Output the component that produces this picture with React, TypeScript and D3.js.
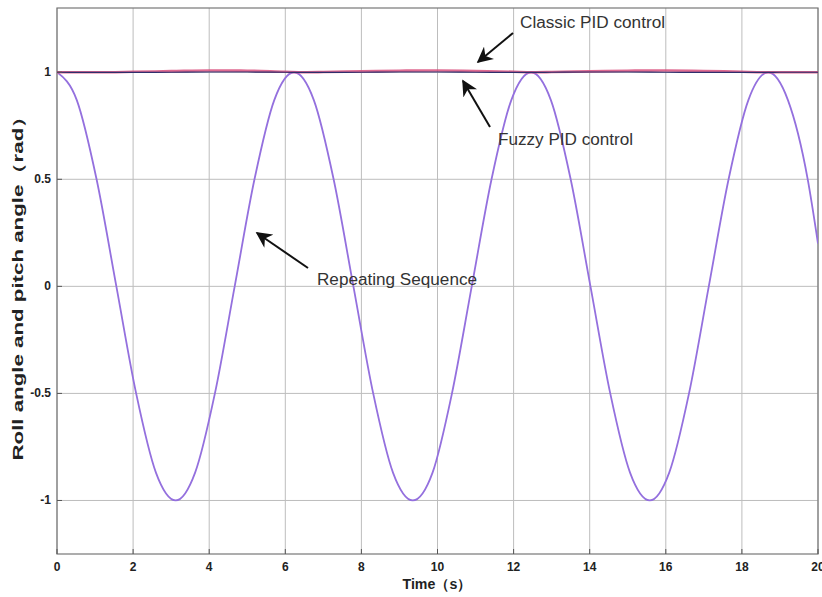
import React from "react";
import * as d3 from "d3";

const xTicks = [0, 2, 4, 6, 8, 10, 12, 14, 16, 18, 20];
const yTicks = [-1, -0.5, 0, 0.5, 1];

const refTimes = [0, 0.52, 1.04, 1.56, 2.08, 2.6, 3.12, 3.63, 4.15, 4.67, 5.19, 5.71, 6.23, 6.75, 7.27, 7.79, 8.31, 8.83, 9.35, 9.87, 10.38, 10.9, 11.42, 11.94, 12.46, 12.98, 13.5, 14.02, 14.54, 15.06, 15.58, 16.09, 16.61, 17.13, 17.65, 18.17, 18.69, 19.21, 19.73, 20];
const refValues = [1, 0.87, 0.5, 0, -0.5, -0.87, -1, -0.87, -0.5, 0, 0.5, 0.87, 1, 0.87, 0.5, 0, -0.5, -0.87, -1, -0.87, -0.5, 0, 0.5, 0.87, 1, 0.87, 0.5, 0, -0.5, -0.87, -1, -0.87, -0.5, 0, 0.5, 0.87, 1, 0.87, 0.5, 0.2];

const pidTimes = [0, 1, 2, 3, 4, 5, 6, 6.5, 7, 8, 9, 10, 11, 12, 12.5, 13, 14, 15, 16, 17, 18, 18.7, 19, 20];
const classicValues = [1.0, 1.0, 1.002, 1.005, 1.008, 1.007, 1.002, 1.0, 1.001, 1.004, 1.007, 1.008, 1.006, 1.002, 1.0, 1.001, 1.004, 1.007, 1.008, 1.006, 1.002, 1.0, 1.0, 1.0];
const fuzzyValues = [1.0, 0.999, 0.999, 1.0, 1.001, 1.001, 1.0, 0.999, 0.999, 1.0, 1.001, 1.001, 1.0, 0.999, 0.999, 1.0, 1.001, 1.001, 1.0, 0.999, 0.999, 0.999, 1.0, 1.0];

const annotations = [
  { text: "Classic PID control", tx: 520, ty: 28, len: 145, x1: 513, y1: 33, x2: 478, y2: 62 },
  { text: "Fuzzy PID control", tx: 498, ty: 145, len: 135, x1: 490, y1: 127, x2: 463, y2: 81 },
  { text: "Repeating Sequence", tx: 317, ty: 285, len: 160, x1: 308, y1: 268, x2: 257, y2: 233 },
];

export default function App() {
  const W = 822, H = 597;
  const L = 57, R = 818, T = 8, B = 554;
  const x = d3.scaleLinear().domain([0, 20]).range([L, R]);
  const y = d3.scaleLinear().domain([-1.25, 1.3]).range([B, T]);

  const line = d3.line<[number, number]>().x(d => x(d[0])).y(d => y(d[1])).curve(d3.curveMonotoneX);
  const refPath = line(refTimes.map((t, i) => [t, refValues[i]]))!;
  const classicPath = line(pidTimes.map((t, i) => [t, classicValues[i]]))!;
  const fuzzyPath = line(pidTimes.map((t, i) => [t, fuzzyValues[i]]))!;

  const font = "'Liberation Sans', Arial, sans-serif";

  return (
    <svg width={W} height={H} style={{ position: "absolute", left: 0, top: 0, background: "#fff" }}>
      <rect x={0} y={0} width={W} height={H} fill="#fff" />
      <defs>
        <clipPath id="plotclip">
          <rect x={L} y={T} width={R - L} height={B - T} />
        </clipPath>
        <marker id="arrow" viewBox="0 0 10 10" refX="9" refY="5" markerWidth="8" markerHeight="8" orient="auto">
          <path d="M0,0 L10,5 L0,10 L3,5 z" fill="#111" />
        </marker>
      </defs>
      {xTicks.map(t => (
        <line key={"gx" + t} x1={x(t)} x2={x(t)} y1={T} y2={B} stroke="#bdbdbd" strokeWidth={1} />
      ))}
      {yTicks.map(t => (
        <line key={"gy" + t} x1={L} x2={R} y1={y(t)} y2={y(t)} stroke="#bdbdbd" strokeWidth={1} />
      ))}
      <rect x={L} y={T} width={R - L} height={B - T} fill="none" stroke="#777" strokeWidth={1.2} />
      <g clipPath="url(#plotclip)">
        <path d={refPath} fill="none" stroke="#9470de" strokeWidth={1.8} />
        <path d={classicPath} fill="none" stroke="#d9507e" strokeWidth={2.6} opacity={0.85} />
        <path d={fuzzyPath} fill="none" stroke="#2e2f6e" strokeWidth={1.2} />
      </g>
      {xTicks.map(t => (
        <g key={"tx" + t}>
          <line x1={x(t)} x2={x(t)} y1={B} y2={B - 5} stroke="#555" />
          <text x={x(t)} y={B + 17} textAnchor="middle" fontFamily={font} fontSize={12} fontWeight="bold" fill="#222">{t}</text>
        </g>
      ))}
      {yTicks.map(t => (
        <g key={"ty" + t}>
          <line x1={L} x2={L + 5} y1={y(t)} y2={y(t)} stroke="#555" />
          <text x={L - 6} y={y(t) + 4} textAnchor="end" fontFamily={font} fontSize={12} fontWeight="bold" fill="#222">{t}</text>
        </g>
      ))}
      <text x={437} y={589} textAnchor="middle" fontFamily={font} fontSize={14} fontWeight="bold" fill="#222" textLength={69} lengthAdjust="spacingAndGlyphs">Time（s）</text>
      <text transform={`translate(23, 283) rotate(-90)`} textAnchor="middle" fontFamily={font} fontSize={14} fontWeight="bold" fill="#222" textLength={355} lengthAdjust="spacingAndGlyphs">Roll angle and pitch angle（rad）</text>
      {annotations.map(a => (
        <g key={a.text}>
          <line x1={a.x1} y1={a.y1} x2={a.x2} y2={a.y2} stroke="#111" strokeWidth={2} markerEnd="url(#arrow)" />
          <text x={a.tx} y={a.ty} fontFamily={font} fontSize={16} fill="#333" textLength={a.len} lengthAdjust="spacingAndGlyphs">{a.text}</text>
        </g>
      ))}
    </svg>
  );
}
